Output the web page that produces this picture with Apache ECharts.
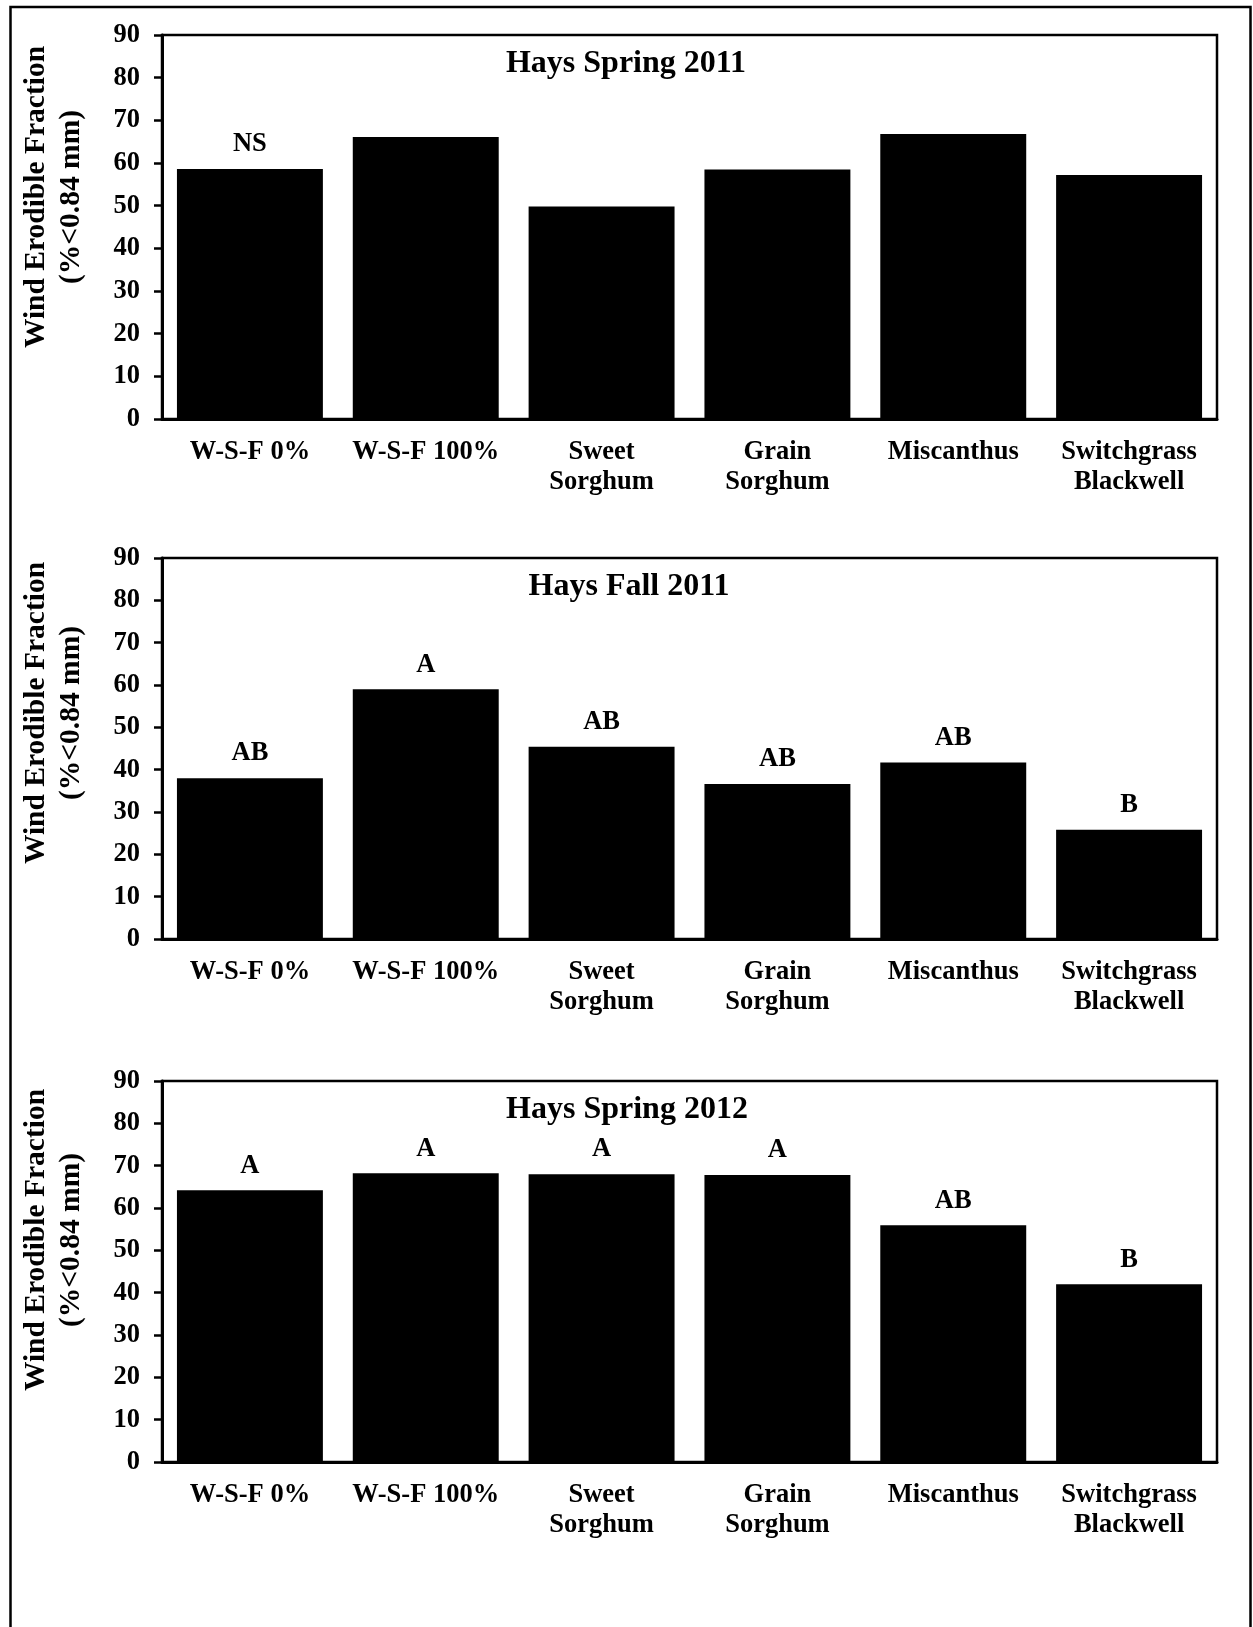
<!DOCTYPE html>
<html>
<head>
<meta charset="utf-8">
<script src="https://cdn.jsdelivr.net/npm/echarts@6/dist/echarts.min.js"></script>
<style>
html,body{margin:0;padding:0;background:#fff;}
#c{width:1253px;height:1627px;}
</style>
</head>
<body>
<div id="c"></div>
<script>
// ---- data ----
const categories = ['W-S-F 0%', 'W-S-F 100%', 'Sweet\nSorghum', 'Grain\nSorghum', 'Miscanthus', 'Switchgrass\nBlackwell'];
const yTicks = [0, 10, 20, 30, 40, 50, 60, 70, 80, 90];
const panelTitles = ['Hays Spring 2011', 'Hays Fall 2011', 'Hays Spring 2012'];
const spring2011 = [58.6, 66.1, 49.8, 58.5, 66.8, 57.2];
const spring2011Letters = ['NS', '', '', '', '', ''];
const fall2011 = [38.0, 59.0, 45.4, 36.6, 41.7, 25.8];
const fall2011Letters = ['AB', 'A', 'AB', 'AB', 'AB', 'B'];
const spring2012 = [64.2, 68.2, 68.0, 67.8, 55.9, 42.0];
const spring2012Letters = ['A', 'A', 'A', 'A', 'AB', 'B'];
const yTitle = 'Wind Erodible Fraction\n(%<0.84 mm)';

// ---- layout ----
const FONT = "'Liberation Serif', 'Times New Roman', serif";
const panels = [
  {top: 35, height: 384, values: spring2011, letters: spring2011Letters, titleX: 626, titleY: 64, yTitleY: 197},
  {top: 558, height: 381, values: fall2011, letters: fall2011Letters, titleX: 629, titleY: 587, yTitleY: 713},
  {top: 1081, height: 381, values: spring2012, letters: spring2012Letters, titleX: 627, titleY: 1110, yTitleY: 1240}
];
const gridLeft = 162, gridWidth = 1055;

const grids = [], xAxes = [], yAxes = [], series = [], graphics = [];
panels.forEach((p, i) => {
  grids.push({left: gridLeft, top: p.top, width: gridWidth, height: p.height, show: true,
    borderColor: '#000', borderWidth: 2.5, backgroundColor: 'transparent', containLabel: false});
  xAxes.push({type: 'category', gridIndex: i, data: categories,
    axisLine: {show: true, lineStyle: {color: '#000', width: 3}},
    axisTick: {show: false},
    axisLabel: {color: '#000', fontFamily: FONT, fontWeight: 'bold', fontSize: 26.5, lineHeight: 30, margin: 18, interval: 0}
  });
  yAxes.push({type: 'value', gridIndex: i, min: yTicks[0], max: yTicks[yTicks.length - 1], interval: yTicks[1] - yTicks[0],
    axisLine: {show: true, lineStyle: {color: '#000', width: 3}},
    axisTick: {show: true, inside: false, length: 8, lineStyle: {color: '#000', width: 2.5}},
    splitLine: {show: false},
    axisLabel: {color: '#000', fontFamily: FONT, fontWeight: 'bold', fontSize: 26.5, margin: 22}
  });
  series.push({type: 'bar', xAxisIndex: i, yAxisIndex: i, barCategoryGap: '17%',
    data: p.values.map((v, j) => ({value: v, label: {show: p.letters[j] !== '', formatter: p.letters[j]}})),
    itemStyle: {color: '#000'},
    label: {position: 'top', distance: 11, color: '#000', fontFamily: FONT, fontWeight: 'bold', fontSize: 26.5},
    emphasis: {disabled: true}, animation: false
  });
  graphics.push({type: 'text', x: p.titleX, y: p.titleY,
    style: {text: panelTitles[i], font: 'bold 32px ' + FONT, fill: '#000', textAlign: 'center', textVerticalAlign: 'middle'}});
  graphics.push({type: 'text', x: 54, y: p.yTitleY, rotation: Math.PI / 2,
    style: {text: yTitle, font: 'bold 29.5px ' + FONT, fill: '#000', textAlign: 'center', textVerticalAlign: 'middle', lineHeight: 35}});
});
graphics.push({type: 'rect', shape: {x: 10.5, y: 7, width: 1240, height: 1650},
  style: {fill: 'none', stroke: '#000', lineWidth: 2.5}, silent: true});

const chart = echarts.init(document.getElementById('c'), null, {renderer: 'canvas'});
chart.setOption({
  animation: false,
  backgroundColor: '#fff',
  grid: grids, xAxis: xAxes, yAxis: yAxes, series: series, graphic: graphics
});
</script>
</body>
</html>
